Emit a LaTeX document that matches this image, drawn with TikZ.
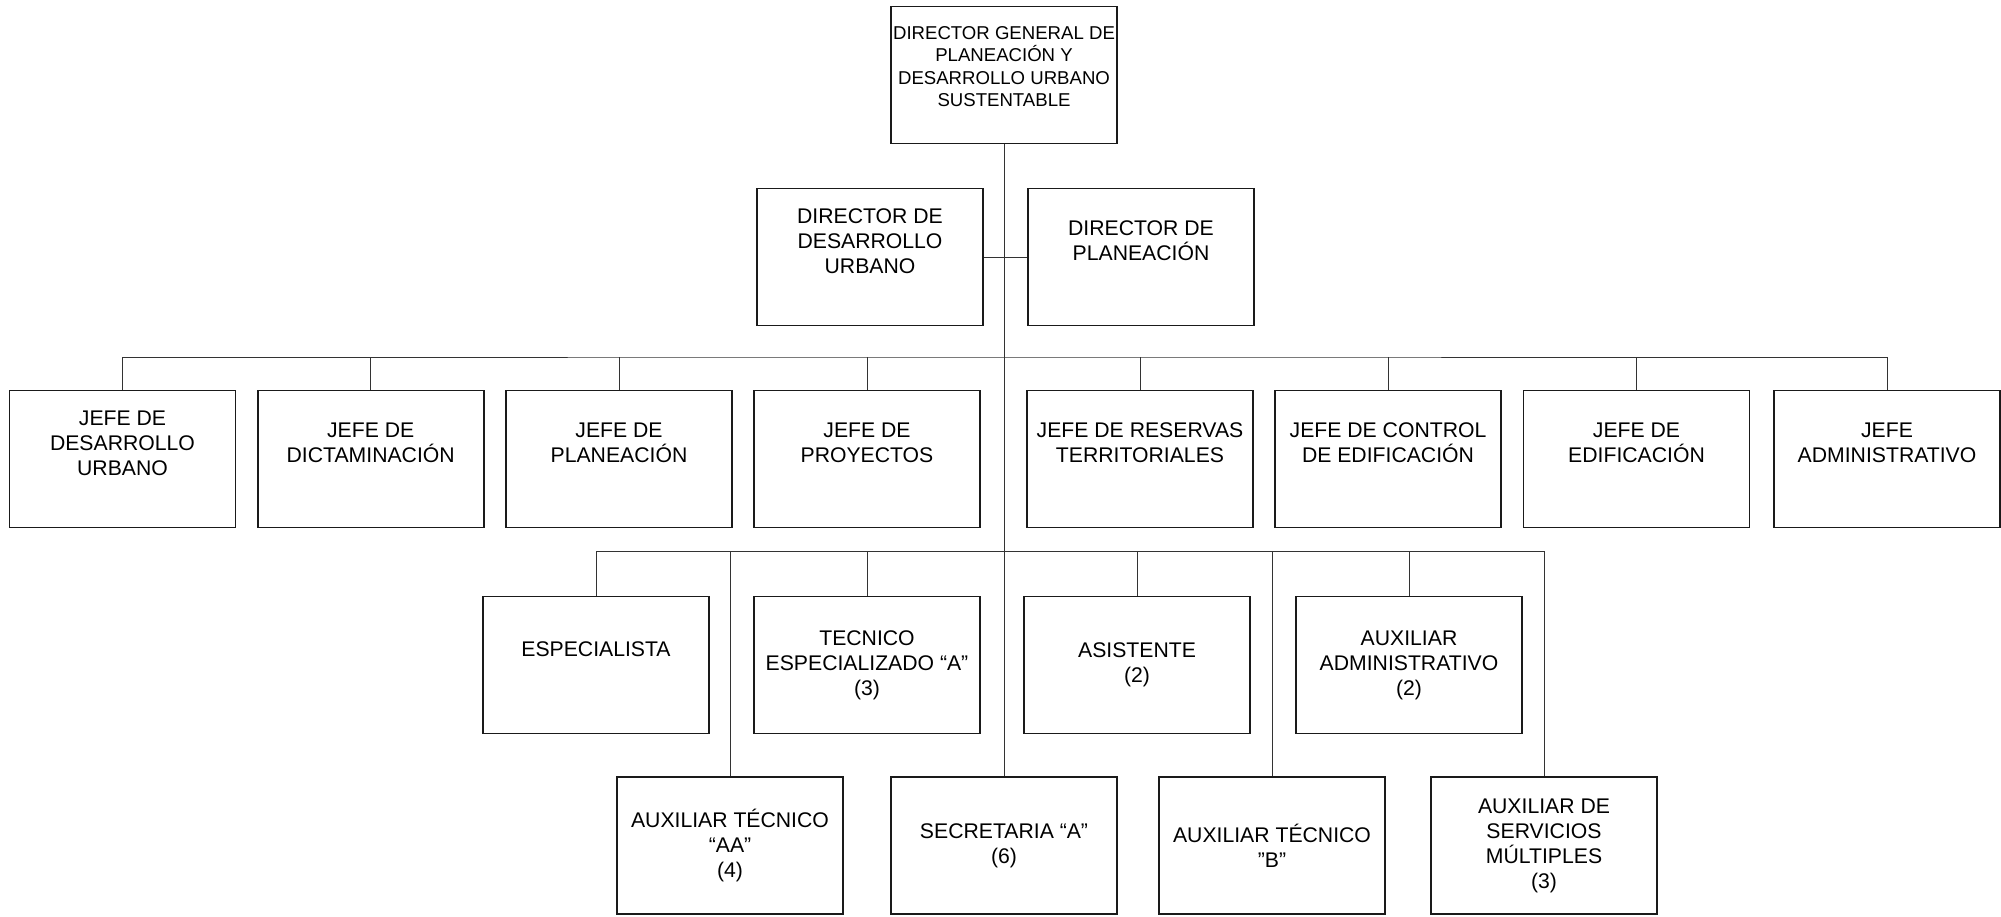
\documentclass[tikz,border=0pt]{standalone}
\usepackage{fontspec}
\setmainfont{Liberation Sans}
\usepackage{tikz}
\usepackage{xcolor}
\usetikzlibrary{positioning,calc}
\definecolor{ChartBlack}{HTML}{1A1A1A}
\definecolor{ChartLine}{HTML}{333333}
\definecolor{ChartWhite}{HTML}{ffffff}
\tikzset{
    % Base node style
    basenode/.style={
        draw=ChartBlack,
        fill=ChartWhite,
        line width=0.8pt,
        minimum height=68.5pt,
        minimum width=113pt,
        inner sep=1pt,
        align=center,
        font=\fontsize{10.6}{12.5}\selectfont
    },
    % Top box
    topnode/.style={
        basenode,
        font=\fontsize{9.3}{11.2}\selectfont
    },
    % Director boxes
    directornode/.style={
        basenode
    },
    % Jefe boxes
    jefenode/.style={
        basenode
    },
    % Staff boxes
    staffnode/.style={
        basenode
    },
    % Connector lines
    myline/.style={
        line width=0.5pt,
        draw=ChartLine
    }
}

\begin{document}
\begin{tikzpicture}[x=0.5pt,y=-0.5pt]
        \useasboundingbox (0,0) rectangle (2001,916);

        % Top level (text kept high with an empty last line)
        \node[topnode] (dg) at (1004,75) {DIRECTOR GENERAL DE\\PLANEACIÓN Y\\DESARROLLO URBANO\\SUSTENTABLE\\[-6pt]\strut};

        % Directors
        \node[directornode] (ddu) at (870,257) {DIRECTOR DE\\DESARROLLO\\URBANO\\\strut};
        \node[directornode] (dp) at (1141,257) {DIRECTOR DE\\PLANEACIÓN\\\strut};

        % Jefes
        \node[jefenode] (j1) at (122.5,459) {JEFE DE\\DESARROLLO\\URBANO\\\strut};
        \node[jefenode] (j2) at (370.7,459) {JEFE DE\\DICTAMINACIÓN\\\strut};
        \node[jefenode] (j3) at (619,459) {JEFE DE\\PLANEACIÓN\\\strut};
        \node[jefenode] (j4) at (867,459) {JEFE DE\\PROYECTOS\\\strut};
        \node[jefenode] (j5) at (1140,459) {JEFE DE RESERVAS\\TERRITORIALES\\\strut};
        \node[jefenode] (j6) at (1388,459) {JEFE DE CONTROL\\DE EDIFICACIÓN\\\strut};
        \node[jefenode] (j7) at (1636.5,459) {JEFE DE\\EDIFICACIÓN\\\strut};
        \node[jefenode] (j8) at (1887,459) {JEFE\\ADMINISTRATIVO\\\strut};

        % Staff, upper row
        \node[staffnode] (esp) at (596,665) {ESPECIALISTA\\\strut};
        \node[staffnode] (tec) at (867,665) {TECNICO\\ESPECIALIZADO “A”\\(3)};
        \node[staffnode] (asis) at (1137,665) {ASISTENTE\\(2)};
        \node[staffnode] (aadm) at (1409,665) {AUXILIAR\\ADMINISTRATIVO\\(2)};

        % Staff, lower row
        \node[staffnode] (ataa) at (730,845.5) {AUXILIAR TÉCNICO\\“AA”\\(4)};
        \node[staffnode] (sec) at (1004,845.5) {SECRETARIA “A”\\(6)};
        \node[staffnode] (atb) at (1272,845.5) {AUXILIAR TÉCNICO\\”B”};
        \node[staffnode] (asm) at (1544,845.5) {AUXILIAR DE\\SERVICIOS\\MÚLTIPLES\\(3)};

        % Bus lines
        \coordinate (jbus) at (1004,357);
        \coordinate (sbus) at (1004,551);

        % Lines
        \draw[myline] (dg.south) -- (sec.north);
        \draw[myline] (ddu.east) -- (dp.west);

        \draw[myline] (j1.north) |- (jbus) -| (j8.north);
        \foreach \n in {j2,j3,j4,j5,j6,j7}
            \draw[myline] (\n.north) -- (\n.north |- jbus);

        \draw[myline] (esp.north) |- (sbus) -| (asm.north);
        \foreach \n in {tec,asis,aadm,ataa,atb}
            \draw[myline] (\n.north) -- (\n.north |- sbus);
    \end{tikzpicture}
\end{document}
